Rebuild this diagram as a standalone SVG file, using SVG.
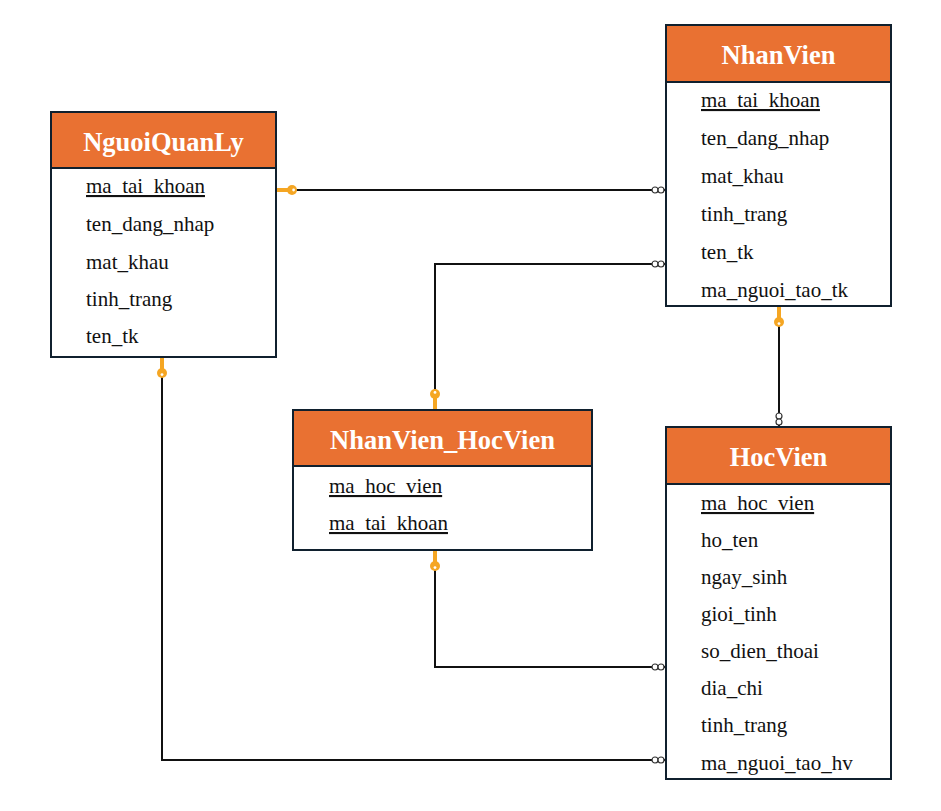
<svg xmlns="http://www.w3.org/2000/svg" width="941" height="811" viewBox="0 0 941 811">
<defs>
<style>
.box{fill:#ffffff;stroke:#10202e;stroke-width:2}
.hdr{fill:#E97132;stroke:#10202e;stroke-width:2}
.title{font-family:"Liberation Serif","Times New Roman",serif;font-weight:bold;font-size:26.5px;fill:#ffffff;text-anchor:middle}
.f{font-family:"Liberation Serif","Times New Roman",serif;font-size:21px;fill:#111111}
.pk{text-decoration:underline}
.conn{fill:none;stroke:#111111;stroke-width:2}
</style>
<marker id="key" markerUnits="userSpaceOnUse" orient="auto" markerWidth="24" markerHeight="14" refX="0" refY="7" viewBox="0 0 24 14" overflow="visible">
<rect x="0" y="5" width="13" height="4" fill="#F5A623"/>
<circle cx="15" cy="7" r="5" fill="#F5A623"/>
<circle cx="16.6" cy="7" r="1.4" fill="#ffffff"/>
</marker>
<marker id="many" markerUnits="userSpaceOnUse" orient="auto" markerWidth="20" markerHeight="10" refX="20" refY="5" viewBox="0 0 20 10" overflow="visible">
<circle cx="10" cy="5" r="3" fill="#ffffff" stroke="#333333" stroke-width="1.2"/>
<circle cx="16" cy="5" r="3" fill="#ffffff" stroke="#333333" stroke-width="1.2"/>
</marker>
</defs>
<rect width="941" height="811" fill="#ffffff"/>
<g id="connectors">
<path class="conn" d="M277,190 H665" marker-start="url(#key)" marker-end="url(#many)"/>
<path class="conn" d="M435,409 V264 H665" marker-start="url(#key)" marker-end="url(#many)"/>
<path class="conn" d="M779,307 V426" marker-start="url(#key)" marker-end="url(#many)"/>
<path class="conn" d="M435,551 V667 H665" marker-start="url(#key)" marker-end="url(#many)"/>
<path class="conn" d="M162,358 V760 H665" marker-start="url(#key)" marker-end="url(#many)"/>
</g>
<g id="NguoiQuanLy">
<rect class="box" x="51" y="112" width="225" height="245"/>
<rect class="hdr" x="51" y="112" width="225" height="56"/>
<text class="title" x="163.5" y="151">NguoiQuanLy</text>
<text class="f pk" x="86" y="193">ma_tai_khoan</text>
<text class="f" x="86" y="231">ten_dang_nhap</text>
<text class="f" x="86" y="269">mat_khau</text>
<text class="f" x="86" y="306">tinh_trang</text>
<text class="f" x="86" y="343">ten_tk</text>
</g>
<g id="NhanVien">
<rect class="box" x="666" y="25" width="225" height="281"/>
<rect class="hdr" x="666" y="25" width="225" height="57"/>
<text class="title" x="778.5" y="64">NhanVien</text>
<text class="f pk" x="701" y="107">ma_tai_khoan</text>
<text class="f" x="701" y="145">ten_dang_nhap</text>
<text class="f" x="701" y="183">mat_khau</text>
<text class="f" x="701" y="221">tinh_trang</text>
<text class="f" x="701" y="259">ten_tk</text>
<text class="f" x="701" y="297">ma_nguoi_tao_tk</text>
</g>
<g id="NhanVien_HocVien">
<rect class="box" x="293" y="410" width="299" height="140"/>
<rect class="hdr" x="293" y="410" width="299" height="56"/>
<text class="title" x="442.5" y="449">NhanVien_HocVien</text>
<text class="f pk" x="329" y="493">ma_hoc_vien</text>
<text class="f pk" x="329" y="530">ma_tai_khoan</text>
</g>
<g id="HocVien">
<rect class="box" x="666" y="427" width="225" height="352"/>
<rect class="hdr" x="666" y="427" width="225" height="57"/>
<text class="title" x="778.5" y="466">HocVien</text>
<text class="f pk" x="701" y="510">ma_hoc_vien</text>
<text class="f" x="701" y="547">ho_ten</text>
<text class="f" x="701" y="584">ngay_sinh</text>
<text class="f" x="701" y="621">gioi_tinh</text>
<text class="f" x="701" y="658">so_dien_thoai</text>
<text class="f" x="701" y="695">dia_chi</text>
<text class="f" x="701" y="732">tinh_trang</text>
<text class="f" x="701" y="770">ma_nguoi_tao_hv</text>
</g>
</svg>
